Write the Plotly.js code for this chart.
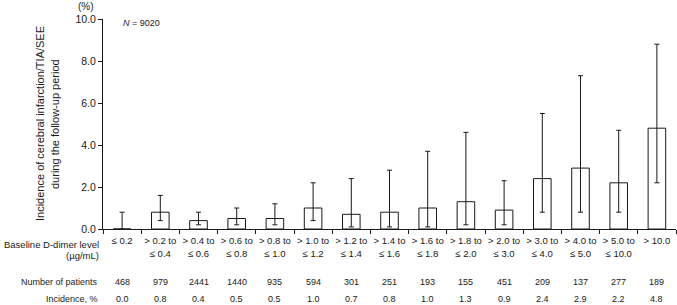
<!DOCTYPE html>
<html>
<head>
<meta charset="utf-8">
<script src="https://cdn.plot.ly/plotly-3.0.1.min.js"></script>
<style>html,body{margin:0;padding:0;background:#fff;}#chart{width:677px;height:305px;}</style>
</head>
<body>
<div id="chart"></div>
<script>
var categories = ["≤ 0.2", "> 0.2 to<br>≤ 0.4", "> 0.4 to<br>≤ 0.6", "> 0.6 to<br>≤ 0.8", "> 0.8 to<br>≤ 1.0",
  "> 1.0 to<br>≤ 1.2", "> 1.2 to<br>≤ 1.4", "> 1.4 to<br>≤ 1.6", "> 1.6 to<br>≤ 1.8", "> 1.8 to<br>≤ 2.0",
  "> 2.0 to<br>≤ 3.0", "> 3.0 to<br>≤ 4.0", "> 4.0 to<br>≤ 5.0", "> 5.0 to<br>≤ 10.0", "> 10.0"];
var incidence = [0.0, 0.8, 0.4, 0.5, 0.5, 1.0, 0.7, 0.8, 1.0, 1.3, 0.9, 2.4, 2.9, 2.2, 4.8];
var ciUpper = [0.8, 1.6, 0.8, 1.0, 1.2, 2.2, 2.4, 2.8, 3.7, 4.6, 2.3, 5.5, 7.3, 4.7, 8.8];
var ciLower = [0.0, 0.4, 0.2, 0.2, 0.2, 0.4, 0.1, 0.1, 0.1, 0.2, 0.2, 0.8, 0.8, 0.8, 2.2];
var patients = [468, 979, 2441, 1440, 935, 594, 301, 251, 193, 155, 451, 209, 137, 277, 189];
var yTicks = [0, 2, 4, 6, 8, 10];

var errPlus = incidence.map(function(v, i){ return ciUpper[i] - v; });
var errMinus = incidence.map(function(v, i){ return v - ciLower[i]; });

var FONT = "Liberation Sans, Arial, sans-serif";
var L = 103, T = 19, W = 573, H = 210;
function px2paperX(px){ return (px - L) / W; }
function px2paperY(py){ return (T + H - py) / H; }

var trace = {
  type: "bar",
  x: categories,
  y: incidence,
  width: 0.46,
  marker: {color: "#ffffff", line: {color: "#1a1a1a", width: 1}},
  error_y: {type: "data", symmetric: false, array: errPlus, arrayminus: errMinus,
            color: "#1a1a1a", thickness: 1, width: 2.5},
  hoverinfo: "none"
};

var annotations = [];
function addText(text, xref, x, py, xanchor, size){
  annotations.push({text: text, xref: xref, x: x, yref: "paper", y: px2paperY(py),
    xanchor: xanchor, yanchor: "middle", showarrow: false,
    font: {family: FONT, size: size || 9, color: "#1a1a1a"}});
}
// row labels
addText("Baseline D-dimer level", "paper", px2paperX(101), 244, "right", 9.5);
addText("(µg/mL)", "paper", px2paperX(101), 255, "right", 9.5);
addText("Number of patients", "paper", px2paperX(100), 282, "right", 9);
addText("Incidence, %", "paper", px2paperX(100), 299, "right", 9);
for (var i = 0; i < categories.length; i++) {
  addText(String(patients[i]), "x", categories[i], 282, "center", 9);
  addText(incidence[i].toFixed(1), "x", categories[i], 299, "center", 9);
}
// (%) and N
addText("(%)", "paper", px2paperX(86), 6, "center", 10);
addText("<i>N</i> = 9020", "paper", px2paperX(121), 23, "left", 9);
// y title lines
annotations.push({text: "Incidence of cerebral infarction/TIA/SEE", xref: "paper", x: px2paperX(40),
  yref: "paper", y: 0.5, textangle: -90, showarrow: false, xanchor: "center", yanchor: "middle",
  font: {family: FONT, size: 11, color: "#1a1a1a"}});
annotations.push({text: "during the follow-up period", xref: "paper", x: px2paperX(55),
  yref: "paper", y: 0.5, textangle: -90, showarrow: false, xanchor: "center", yanchor: "middle",
  font: {family: FONT, size: 11, color: "#1a1a1a"}});

var layout = {
  width: 677, height: 305,
  margin: {l: L, r: 677 - L - W, t: T, b: 305 - T - H, pad: 0},
  paper_bgcolor: "#ffffff", plot_bgcolor: "#ffffff",
  showlegend: false,
  xaxis: {type: "category", tickson: "boundaries", ticks: "outside", ticklen: 4, tickcolor: "#1a1a1a",
          showline: true, linecolor: "#1a1a1a", linewidth: 1, showgrid: false, zeroline: false,
          tickangle: 0, automargin: false, ticklabelstandoff: 3,
          tickfont: {family: FONT, size: 9.5, color: "#1a1a1a"}, range: [-0.5, 14.5], fixedrange: true},
  yaxis: {range: [0, 10], tickvals: yTicks, ticktext: yTicks.map(function(v){ return v.toFixed(1); }),
          ticks: "outside", ticklen: 4, tickcolor: "#1a1a1a", showline: true, linecolor: "#1a1a1a",
          linewidth: 1, showgrid: false, zeroline: false, automargin: false,
          tickfont: {family: FONT, size: 10.5, color: "#1a1a1a"}},
  annotations: annotations
};

Plotly.newPlot("chart", [trace], layout, {displayModeBar: false, staticPlot: true});
</script>
</body>
</html>
